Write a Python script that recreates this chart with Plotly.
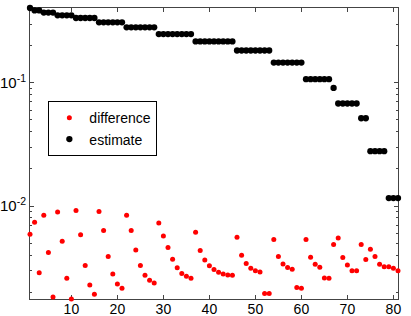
import math
import plotly.graph_objects as go

index = list(range(1, 82))

estimate = [
    0.405,
    0.387, 0.387,
    0.372, 0.372, 0.372,
    0.353, 0.353, 0.353, 0.353,
    0.336, 0.336, 0.336, 0.336, 0.336,
    0.310, 0.310, 0.310, 0.310, 0.310, 0.310,
    0.282, 0.282, 0.282, 0.282, 0.282, 0.282, 0.282,
    0.249, 0.249, 0.249, 0.249, 0.249, 0.249, 0.249, 0.249,
    0.217, 0.217, 0.217, 0.217, 0.217, 0.217, 0.217, 0.217, 0.217,
    0.183, 0.183, 0.183, 0.183, 0.183, 0.183, 0.183, 0.183,
    0.146, 0.146, 0.146, 0.146, 0.146, 0.146, 0.146,
    0.107, 0.107, 0.107, 0.107, 0.107, 0.107,
    0.091,
    0.068, 0.068, 0.068, 0.068, 0.068,
    0.0516, 0.0516,
    0.0279, 0.0279, 0.0279, 0.0279,
    0.0116, 0.0116, 0.0116,
]

difference = [
    0.00590, 0.00738, 0.00288, 0.00841, 0.00419, 0.00183, 0.00893, 0.00518, 0.00259, 0.00176,
    0.00918, 0.00586, 0.00329, 0.00229, 0.00192, 0.00902, 0.00632, 0.00389, 0.00281, 0.00233,
    0.00215, 0.00841, 0.00632, 0.00440, 0.00329, 0.00274, 0.00250, 0.00237, 0.00728, 0.00571,
    0.00460, 0.00370, 0.00315, 0.00283, 0.00269, 0.00259, 0.00612, 0.00435, 0.00365, 0.00328,
    0.00305, 0.00290, 0.00281, 0.00276, 0.00274, 0.00557, 0.00398, 0.00341, 0.00313, 0.00299,
    0.00292, 0.00195, 0.00195, 0.00535, 0.00389, 0.00339, 0.00317, 0.00307, 0.00218, 0.00215,
    0.00535, 0.00384, 0.00337, 0.00319, 0.00261, 0.00259, 0.00487, 0.00551, 0.00382, 0.00333,
    0.00299, 0.00299, 0.00487, 0.00368, 0.00446, 0.00389, 0.00337, 0.00321, 0.00321, 0.00313,
    0.00299,
]

y_tickvals = [0.01, 0.1]
y_ticktext = ["10<sup>-2</sup>", "10<sup>-1</sup>"]
x_tickvals = [10, 20, 30, 40, 50, 60, 70, 80]

FONT = "Liberation Sans, Arial, sans-serif"

fig = go.Figure()
fig.add_trace(go.Scatter(
    x=index, y=difference, mode="markers", name="difference",
    marker=dict(color="#ff0000", size=5), cliponaxis=False,
))
fig.add_trace(go.Scatter(
    x=index, y=estimate, mode="markers", name="estimate",
    marker=dict(color="#000000", size=6.3), cliponaxis=False,
))

ymin = math.log10(min(difference))
ymax = math.log10(max(estimate))

fig.update_layout(
    width=411, height=316,
    margin=dict(l=30, r=13, t=8, b=17),
    paper_bgcolor="white", plot_bgcolor="white",
    font=dict(family=FONT, size=14, color="#000"),
    showlegend=True,
    legend=dict(
        x=0.198, y=0.585, xanchor="center", yanchor="middle",
        bordercolor="#000", borderwidth=1, bgcolor="white",
        font=dict(size=14), tracegroupgap=0, itemwidth=30,
    ),
)
fig.update_xaxes(
    range=[1, 81], tickvals=x_tickvals, ticks="inside", ticklen=4,
    showline=True, linecolor="#444", linewidth=1, mirror="ticks",
    showgrid=False, zeroline=False, tickcolor="#444", automargin=False,
    ticklabelstandoff=-3, layer="below traces",
)
fig.update_yaxes(
    type="log", range=[ymin, ymax], tickvals=y_tickvals, ticktext=y_ticktext,
    tickfont=dict(size=15),
    ticks="inside", ticklen=4, tickcolor="#444",
    showline=True, linecolor="#444", linewidth=1, mirror="ticks",
    showgrid=False, zeroline=False, automargin=False, layer="below traces",
    minor=dict(ticks="inside", ticklen=2, tickcolor="#444", dtick="D1", showgrid=False),
)

# remove the default 8px page margin so the figure fills the window exactly
fig.write_html(
    "out.html",
    config={"displayModeBar": False},
    post_script="document.body.style.margin='0px';document.body.style.overflow='hidden';",
)
